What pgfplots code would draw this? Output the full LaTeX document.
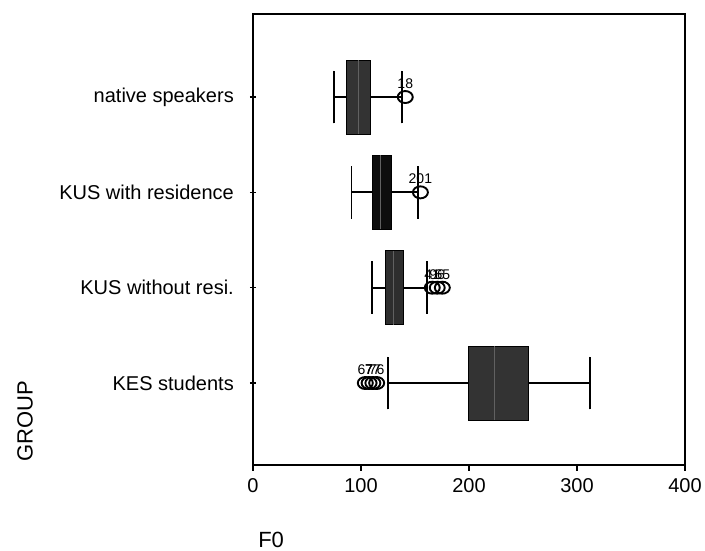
\documentclass[border=0pt]{standalone}
\usepackage{pgfplots}
\pgfplotsset{compat=1.18}
\usepgfplotslibrary{statistics}
\usepackage{fontspec}
\setmainfont{Liberation Sans}
\begin{document}
\begin{tikzpicture}
\begin{axis}[name=ax, scale only axis, width=432pt, height=451pt,
  xmin=0, xmax=400, ymin=0.14, ymax=4.871,
  xtick={0,100,200,300,400},
  ytick={1,2,3,4},
  yticklabels={KES students, KUS without resi., KUS with residence, native speakers},
  tick label style={font=\fontsize{20}{24}\selectfont, inner sep=0pt},
  /pgf/number format/assume math mode=true,
  xtick align=outside, ytick align=center, major tick length=6pt,
  xtick pos=bottom, ytick pos=left,
  yticklabel style={xshift=-16pt},
  xticklabel style={yshift=-7pt},
  axis line style={line width=1.5pt},
  tick style={line width=1.5pt, black},
  xlabel={F0},
  xlabel style={at={(axis description cs:0.004,-0.182)}, anchor=base west, font=\fontsize{22}{26}\selectfont},
  ylabel={GROUP},
  ylabel style={at={(axis description cs:-0.5278,0.0976)}, anchor=center, font=\fontsize{22}{26}\selectfont},
  boxplot/box extend=0.776,
  boxplot/whisker extend=0.552,
  boxplot/every whisker/.style={draw=black, line width=1.9pt},
  boxplot/every box/.style={draw=black, line width=0.8pt},
  boxplot/every median/.style={draw=black!62, line width=0.5pt},
  clip=false,
]
% KES students
\addplot[fill=black!80, draw=black, line width=1.9pt, boxplot prepared={draw position=1,
  lower whisker=125, lower quartile=199.8, median=223.6, upper quartile=255.4, upper whisker=311.7}] coordinates {};
% KUS without resi.
\addplot[fill=black!82, draw=black, line width=1.9pt, boxplot prepared={draw position=2,
  lower whisker=110, lower quartile=122.4, median=130, upper quartile=139.4, upper whisker=160.8}] coordinates {};
% KUS with residence
\addplot[fill=black!95, draw=black, line width=1.9pt, boxplot prepared={draw position=3,
  lower whisker=91.2, lower quartile=110.7, median=118, upper quartile=128.3, upper whisker=153}] coordinates {};
% native speakers
\addplot[fill=black!80, draw=black, line width=1.9pt, boxplot prepared={draw position=4,
  lower whisker=75, lower quartile=86.9, median=97, upper quartile=109, upper whisker=137.6}] coordinates {};
% outliers
\addplot[only marks, mark=o, mark size=6pt, mark options={line width=1.9pt, xscale=1.25, black},
  nodes near coords, point meta=explicit symbolic,
  every node near coord/.style={anchor=south, inner sep=0pt, yshift=7.5pt, font=\fontsize{14}{16}\selectfont, black}]
  coordinates {
  (141,4)[18]
  (155,3)[201]
  (166,2)[41]
  (170.6,2)[96]
  (175.3,2)[65]
  (104,1)[67]
  (107.5,1)[7]
  (111,1)[77]
  (114.5,1)[76]
};
\end{axis}
\pgfresetboundingbox
\path[use as bounding box] ([shift={(-253pt,-86pt)}]ax.south west) rectangle ([shift={(452pt,465pt)}]ax.south west);
\end{tikzpicture}
\end{document}
